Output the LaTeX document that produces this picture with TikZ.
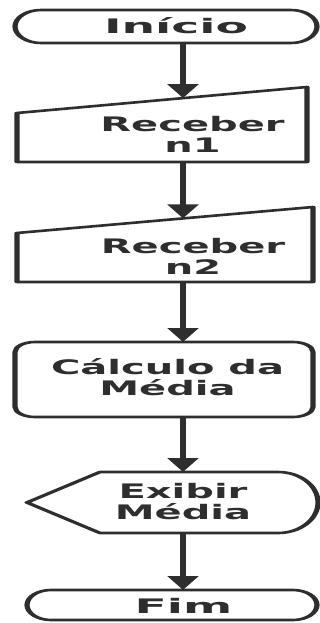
\documentclass[tikz,border=0pt]{standalone}
\usepackage{fontspec}
\setmainfont{DejaVu Sans}
\usetikzlibrary{arrows.meta,calc}
\definecolor{ink}{HTML}{2E2E2E}
\newcommand{\wide}[1]{\scalebox{1.18}[1]{#1}}
\begin{document}
\begin{tikzpicture}[
  box/.style={draw=ink, line width=2.6pt, line join=round},
  blk/.style={inner sep=0pt, outer sep=0pt},
  txt/.style={text=ink, font=\fontsize{20}{21}\selectfont\bfseries, align=center, inner sep=0pt},
  flow/.style={draw=ink, line width=2.8pt, -{Triangle[width=15pt,length=14pt]}},
]
\useasboundingbox (0pt,0pt) rectangle (320pt,-623pt);
% the whole chart is set narrow and widened twice horizontally
\begin{scope}[transform canvas={xscale=2}, x=0.5pt, y=-1pt]
  \coordinate (axis) at (183,0);

  % start terminal
  \node[blk, minimum width=151pt, minimum height=33pt] (start) at (166,26.5) {};
  \draw[box] ([xshift=13pt]start.north west) -- ([xshift=-13pt]start.north east)
    arc[start angle=90, end angle=-90, x radius=13pt, y radius=16.5pt]
    -- ([xshift=13pt]start.south west)
    arc[start angle=270, end angle=90, x radius=13pt, y radius=16.5pt] -- cycle;
  \node[txt] (tstart) at (176,26) {\wide{Início}};

  % first manual input
  \node[blk, minimum width=145pt, minimum height=75pt] (in1) at (162,124.5) {};
  \draw[box] (in1.south west) -- ([yshift=-26pt]in1.north west) coordinate (in1tl)
    -- (in1.north east) -- (in1.south east) -- cycle;
  \node[txt] (tin1) at (192.5,134) {Receber\\n1};

  % second manual input
  \node[blk, minimum width=148pt, minimum height=75pt] (in2) at (165,244.5) {};
  \draw[box] (in2.south west) -- ([yshift=-26pt]in2.north west) coordinate (in2tl)
    -- (in2.north east) -- (in2.south east) -- cycle;
  \node[txt] (tin2) at (193,256) {Receber\\n2};

  % process
  \node[blk, minimum width=149pt, minimum height=75pt] (calc) at (164,379.5) {};
  \draw[box, rounded corners=10pt] (calc.south west) rectangle (calc.north east);
  \node[txt] (tcalc) at (167.5,377.5) {Cálculo da\\Média};

  % display
  \node[blk, minimum width=145.5pt, minimum height=61pt] (show) at (172.5,502.5) {};
  \draw[box] (show.west) -- ([xshift=36.5pt]show.north west) -- ([xshift=-20pt]show.north east)
    arc[start angle=90, end angle=-90, x radius=20pt, y radius=30.5pt]
    -- ([xshift=36.5pt]show.south west) -- cycle;
  \node[txt] (tshow) at (183,501.5) {Exibir\\Média};

  % end terminal
  \node[blk, minimum width=145pt, minimum height=30pt] (stop) at (172,605) {};
  \draw[box] ([xshift=12pt]stop.north west) -- ([xshift=-12pt]stop.north east)
    arc[start angle=90, end angle=-90, x radius=12pt, y radius=15pt]
    -- ([xshift=12pt]stop.south west)
    arc[start angle=270, end angle=90, x radius=12pt, y radius=15pt] -- cycle;
  \node[txt] (tstop) at (183.5,605.5) {\wide{Fim}};

  % flow
  \draw[flow] (start.south -| axis) -- ($(in1tl)!0.5724!(in1.north east)$);
  \draw[flow] (in1.south -| axis) -- ($(in2tl)!0.5608!(in2.north east)$);
  \draw[flow] (in2.south -| axis) -- (calc.north -| axis);
  \draw[flow] (calc.south -| axis) -- (show.north -| axis);
  \draw[flow] (show.south -| axis) -- (stop.north -| axis);
\end{scope}
\end{tikzpicture}
\end{document}
